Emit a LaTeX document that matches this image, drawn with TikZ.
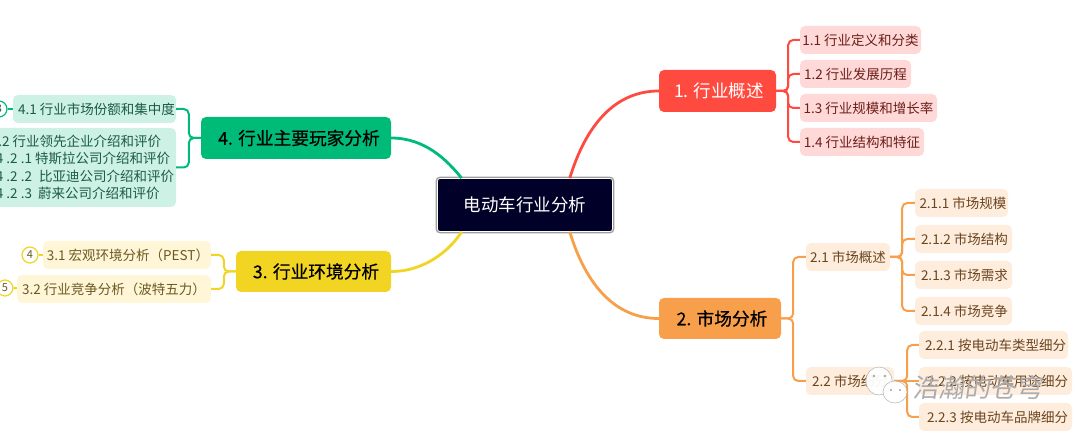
\documentclass[tikz,border=0pt]{standalone}
\usepackage{fontspec}
\setmainfont{Noto Sans CJK SC}
\newfontfamily\topicfont[FakeBold=0.5]{Noto Sans CJK SC}
\usepackage{tikz}
\definecolor{rootfill}{HTML}{000028}
\definecolor{redmain}{HTML}{FF4A40}
\definecolor{redsub}{HTML}{FFD9D7}
\definecolor{redtext}{HTML}{6B1E1A}
\definecolor{orgmain}{HTML}{F79F4B}
\definecolor{orgsub}{HTML}{FEECDC}
\definecolor{orgtext}{HTML}{6B4520}
\definecolor{yelmain}{HTML}{F2D423}
\definecolor{yelsub}{HTML}{FFF6D8}
\definecolor{yeltext}{HTML}{6B5A20}
\definecolor{grnmain}{HTML}{00BA78}
\definecolor{grnsub}{HTML}{CDF1E4}
\definecolor{grntext}{HTML}{1C5C46}
\tikzset{
  rootnode/.style={fill=rootfill,draw=white,line width=0.8pt,rounded corners=2.5pt,text=white,
    preaction={draw=gray!75,line width=3.6pt},minimum width=175,minimum height=53,
    font=\fontsize{17.5}{20}\selectfont},
  topic/.style={rounded corners=5pt,inner sep=0pt,font=\fontsize{17.5}{20}\selectfont},
  darktopic/.style={topic,text=black,font=\fontsize{17.7}{20}\topicfont},
  sub/.style={rounded corners=5pt,inner sep=0pt,minimum height=28,font=\fontsize{13.5}{17.3}\selectfont},
  num/.style={circle,draw,fill=white,line width=1.2pt,inner sep=0pt,minimum size=16,font=\fontsize{11}{13}\selectfont},
  mainline/.style={line width=2.8pt},
  subline/.style={line width=2pt,rounded corners=5pt}
}
\begin{document}
\begin{tikzpicture}[x=1pt,y=-1pt]
\useasboundingbox(0,0)rectangle(1080,435);
% centre and main topics
\node[rootnode](root)at(525,205){电动车行业分析};
\node[topic,fill=redmain,text=white,minimum width=117,minimum height=42](t1)at(717.5,91){\hspace*{3pt}1. 行业概述};
\node[darktopic,fill=orgmain,minimum width=122,minimum height=41](t2)at(720,318.5){\hspace*{4pt}\raisebox{-1pt}{2. 市场分析}};
\node[darktopic,fill=yelmain,minimum width=155,minimum height=41](t3)at(313.5,271.5){\hspace*{5pt}3. 行业环境分析};
\node[darktopic,fill=grnmain,minimum width=190,minimum height=42](t4)at(296,138){\hspace*{6pt}4. 行业主要玩家分析};
% branch 1
\node[sub,fill=redsub,text=redtext,minimum width=121](a1)at(860.5,40){1.1 行业定义和分类};
\node[sub,fill=redsub,text=redtext,minimum width=111](a2)at(855.5,74){1.2 行业发展历程};
\node[sub,fill=redsub,text=redtext,minimum width=137](a3)at(868.5,108){1.3 行业规模和增长率};
\node[sub,fill=redsub,text=redtext,minimum width=124](a4)at(862,142){1.4 行业结构和特征};
% branch 2
\node[sub,fill=orgsub,text=orgtext,minimum width=84](b1)at(848,257){2.1 市场概述};
\node[sub,fill=orgsub,text=orgtext,minimum width=88](b2)at(850,381){2.2 市场细分};
\node[sub,fill=orgsub,text=orgtext,minimum width=93](b11)at(961.5,203){\hspace*{3pt}2.1.1 市场规模};
\node[sub,fill=orgsub,text=orgtext,minimum width=97](b12)at(963.5,239){\hspace*{2pt}2.1.2 市场结构};
\node[sub,fill=orgsub,text=orgtext,minimum width=97](b13)at(963.5,275){\hspace*{2pt}2.1.3 市场需求};
\node[sub,fill=orgsub,text=orgtext,minimum width=97](b14)at(963.5,311){\hspace*{2pt}2.1.4 市场竞争};
\node[sub,fill=orgsub,text=orgtext,minimum width=149](b21)at(993.5,345){\hspace*{4pt}2.2.1 按电动车类型细分};
\node[sub,fill=orgsub,text=orgtext,minimum width=153](b22)at(995.5,381){\hspace*{4pt}2.2.2 按电动车用途细分};
\node[sub,fill=orgsub,text=orgtext,minimum width=153](b23)at(995.5,417){\hspace*{4pt}2.2.3 按电动车品牌细分};
% branch 3
\node[sub,fill=yelsub,text=yeltext,minimum width=168](c1)at(127,255){\hspace*{2pt}3.1 宏观环境分析（PEST）};
\node[sub,fill=yelsub,text=yeltext,minimum width=194](c2)at(114,289){3.2 行业竞争分析（波特五力）};
\node[num,draw=yelmain,text=yeltext](c1n)at(30,255){4};
\node[num,draw=yelmain,text=yeltext](c2n)at(5,288){5};
% branch 4
\node[sub,fill=grnsub,text=grntext,minimum width=163](d1)at(94.5,109){\hspace*{4pt}4.1 行业市场份额和集中度};
\node[sub,fill=grnsub,text=grntext,minimum width=182,minimum height=79,align=left](d2)at(85,167.5){\hspace*{-5pt}4.2 行业领先企业介绍和评价\\4 .2 .1 特斯拉公司介绍和评价\\4 .2 .2 \hspace*{4pt}比亚迪公司介绍和评价\\4 .2 .3 \hspace*{3pt}蔚来公司介绍和评价};
\node[num,draw=grnmain,text=grntext](d1n)at(-1,109){3};
% curved branches
\draw[mainline,redmain](root.31)..controls(586,125)and(615,91)..(t1.west);
\draw[mainline,orgmain](root.329)..controls(586,285)and(615,318.5)..(t2.west);
\draw[mainline,yelmain](root.203)..controls(450,250)and(425,271.5)..(t3.east);
\draw[mainline,grnmain](root.157)..controls(447,160)and(425,138)..(t4.east);
% elbows
\draw[subline,redmain](t1.east)--++(12,0)|-(a1.west);
\draw[subline,redmain](t1.east)--++(12,0)|-(a2.west);
\draw[subline,redmain](t1.east)--++(12,0)|-(a3.west);
\draw[subline,redmain](t1.east)--++(12,0)|-(a4.west);
\draw[subline,orgmain](t2.east)--++(12,0)|-(b1.west);
\draw[subline,orgmain](t2.east)--++(12,0)|-(b2.west);
\draw[subline,orgmain](b1.east)--++(12,0)|-(b11.west);
\draw[subline,orgmain](b1.east)--++(12,0)|-(b12.west);
\draw[subline,orgmain](b1.east)--++(12,0)|-(b13.west);
\draw[subline,orgmain](b1.east)--++(12,0)|-(b14.west);
\draw[subline,orgmain](b2.east)--++(13,0)|-(b21.west);
\draw[subline,orgmain](b2.east)--(b22.west);
\draw[subline,orgmain](b2.east)--++(13,0)|-(b23.west);
\draw[subline,yelmain](t3.west)--++(-12,0)|-(c1.east);
\draw[subline,yelmain](t3.west)--++(-12,0)|-(c2.east);
\draw[subline,yelmain](c1n)--(c1);
\draw[subline,yelmain](c2n)--(c2);
\draw[subline,grnmain](t4.west)--++(-12,0)|-(d1.east);
\draw[subline,grnmain](t4.west)--++(-12,0)|-(d2.east);
\draw[subline,grnmain](d1n)--(d1);
% watermark
\draw[gray!70,fill=white,fill opacity=0.95](879,381)ellipse[x radius=13,y radius=14];
\draw[gray!70,fill=white,fill opacity=0.95](895,392)ellipse[x radius=12,y radius=11];
\fill[gray!70](874,376)circle[radius=1.3];
\fill[gray!70](885,376)circle[radius=1.3];
\fill[gray!70](891,390)circle[radius=1.2];
\fill[gray!70](900,390)circle[radius=1.2];
\node[inner sep=0pt,text=gray!65,font=\fontsize{26}{30}\selectfont,xslant=0.15](mark)at(979,388){浩瀚的苍穹};
\end{tikzpicture}
\end{document}
